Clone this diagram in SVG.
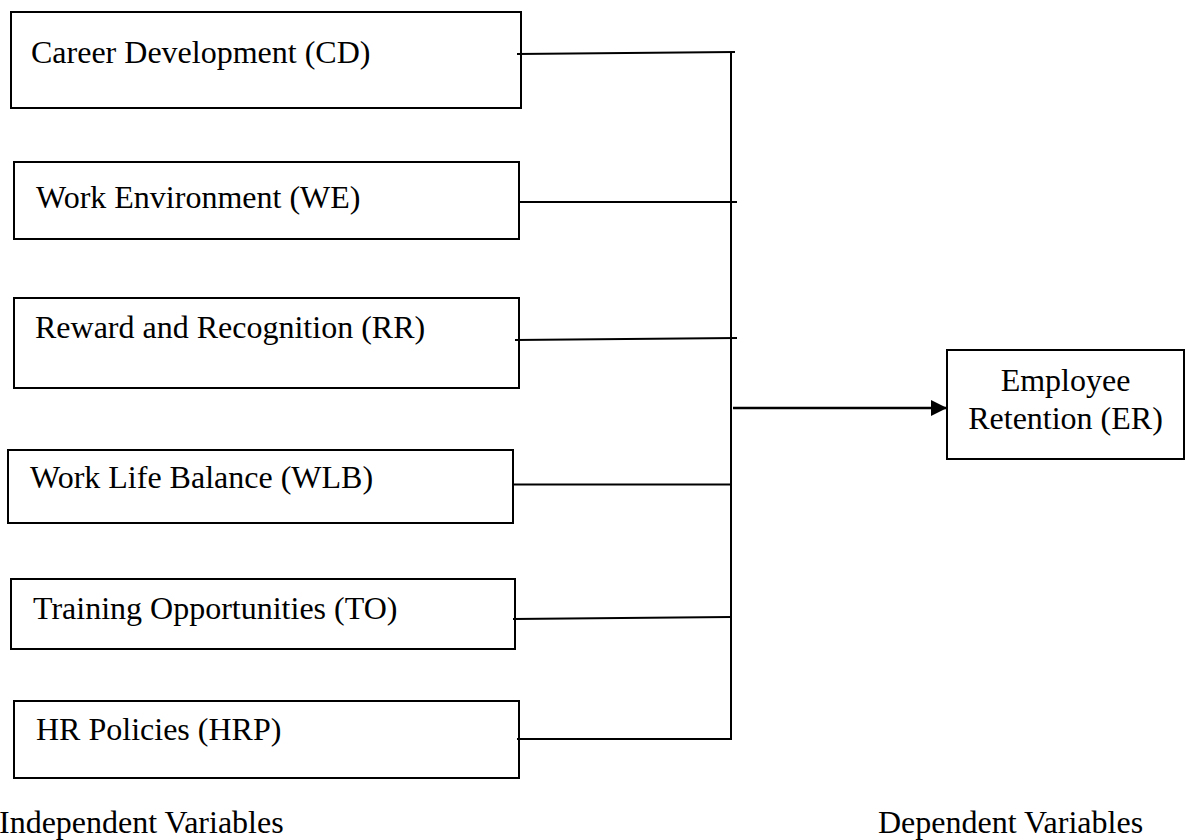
<svg xmlns="http://www.w3.org/2000/svg" width="1185" height="840" viewBox="0 0 1185 840">
  <defs>
    <style>
      .box { fill: #ffffff; stroke: #000000; stroke-width: 2; }
      .lbl { font-family: "Liberation Serif", "Times New Roman", serif; font-size: 32px; fill: #000000; }
      .conn { stroke: #000000; stroke-width: 2; fill: none; }
      .arrowline { stroke: #000000; stroke-width: 2.5; fill: none; }
    </style>
    <marker id="arrow" markerUnits="userSpaceOnUse" markerWidth="17" markerHeight="17" refX="16" refY="8" orient="auto">
      <path d="M0,0 L16,8 L0,16 z" fill="#000000"/>
    </marker>
  </defs>
  <rect width="1185" height="840" fill="#ffffff"/>

  <g id="node-cd">
    <rect class="box" x="11" y="12" width="510" height="96"/>
    <text class="lbl" x="31" y="63">Career Development (CD)</text>
  </g>
  <g id="node-we">
    <rect class="box" x="14" y="162" width="505" height="77"/>
    <text class="lbl" x="36" y="208">Work Environment (WE)</text>
  </g>
  <g id="node-rr">
    <rect class="box" x="14" y="298" width="505" height="90"/>
    <text class="lbl" x="35" y="338">Reward and Recognition (RR)</text>
  </g>
  <g id="node-wlb">
    <rect class="box" x="8" y="450" width="505" height="73"/>
    <text class="lbl" x="30" y="488">Work Life Balance (WLB)</text>
  </g>
  <g id="node-to">
    <rect class="box" x="11" y="579" width="504" height="70"/>
    <text class="lbl" x="33" y="619">Training Opportunities (TO)</text>
  </g>
  <g id="node-hrp">
    <rect class="box" x="14" y="701" width="505" height="77"/>
    <text class="lbl" x="36" y="740">HR Policies (HRP)</text>
  </g>
  <g id="node-er">
    <rect class="box" x="947" y="350" width="237" height="109"/>
    <text class="lbl" x="1065.5" y="391" text-anchor="middle">Employee</text>
    <text class="lbl" x="1065.5" y="429" text-anchor="middle">Retention (ER)</text>
  </g>

  <g id="connectors">
    <line class="conn" x1="517" y1="54" x2="735" y2="52"/>
    <line class="conn" x1="519" y1="202" x2="737" y2="202"/>
    <line class="conn" x1="515" y1="340" x2="737" y2="338"/>
    <line class="conn" x1="513" y1="484.5" x2="731" y2="484.5"/>
    <line class="conn" x1="513" y1="619" x2="731" y2="617"/>
    <line class="conn" x1="517" y1="739" x2="731" y2="739"/>
    <line class="conn" x1="731" y1="52" x2="731" y2="740"/>
    <line class="arrowline" x1="733" y1="408" x2="947" y2="408" marker-end="url(#arrow)"/>
  </g>

  <text class="lbl" x="-1" y="833">Independent Variables</text>
  <text class="lbl" x="878" y="833">Dependent Variables</text>
</svg>
